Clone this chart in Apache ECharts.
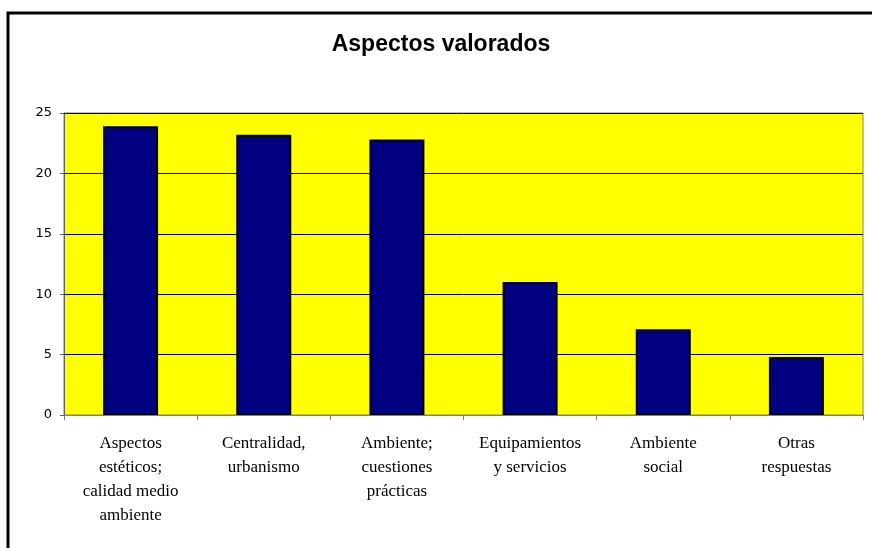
<!DOCTYPE html>
<html>
<head>
<meta charset="utf-8">
<script src="https://cdn.jsdelivr.net/npm/echarts@6/dist/echarts.min.js"></script>
<style>
  html, body { margin: 0; padding: 0; background: #fff; }
  #main { width: 872px; height: 548px; }
</style>
</head>
<body>
<div id="main"></div>
<script>
	/* data */
	var categories = [
		'Aspectos\nestéticos;\ncalidad medio\nambiente',
		'Centralidad,\nurbanismo',
		'Ambiente;\ncuestiones\nprácticas',
		'Equipamientos\ny servicios',
		'Ambiente\nsocial',
		'Otras\nrespuestas'
	];
	var values = [23.9, 23.2, 22.8, 11.0, 7.1, 4.8];
	var yTicks = [0, 5, 10, 15, 20, 25];

	var chart = echarts.init(document.getElementById('main'));
	var option = {
		animation: false,
		backgroundColor: '#fff',
		graphic: [{
			type: 'rect',
			shape: { x: 8, y: 13, width: 900, height: 600 },
			style: { fill: 'none', stroke: '#000', lineWidth: 3 }
		}],
		title: {
			text: 'Aspectos valorados',
			left: 436,
			textAlign: 'center',
			top: 28,
			textStyle: {
				fontFamily: 'Liberation Sans',
				fontWeight: 'bold',
				fontSize: 23,
				color: '#000'
			}
		},
		grid: {
			left: 64,
			right: 9,
			top: 113,
			bottom: 133,
			show: true,
			backgroundColor: '#ffff00',
			borderColor: '#808080',
			borderWidth: 1
		},
		xAxis: {
			type: 'category',
			data: categories,
			axisLine: { lineStyle: { color: '#808080', width: 1 } },
			axisTick: { show: true, length: 5, alignWithLabel: false, lineStyle: { color: '#808080' } },
			axisLabel: {
				interval: 0,
				margin: 17,
				fontFamily: 'Liberation Serif',
				fontSize: 17,
				lineHeight: 24,
				color: '#000'
			}
		},
		yAxis: {
			type: 'value',
			min: yTicks[0],
			max: yTicks[yTicks.length - 1],
			interval: 5,
			axisLine: { show: true, lineStyle: { color: '#606060' } },
			axisTick: { show: true, length: 4, lineStyle: { color: '#606060' } },
			splitLine: { lineStyle: { color: '#000', width: 1 } },
			axisLabel: {
				margin: 12,
				fontFamily: 'DejaVu Sans',
				fontSize: 13,
				color: '#000'
			}
		},
		series: [{
			type: 'bar',
			data: values,
			barWidth: 55,
			itemStyle: {
				color: '#000080',
				borderColor: '#000',
				borderWidth: 2
			}
		}]
	};
	chart.setOption(option);
</script>
</body>
</html>
